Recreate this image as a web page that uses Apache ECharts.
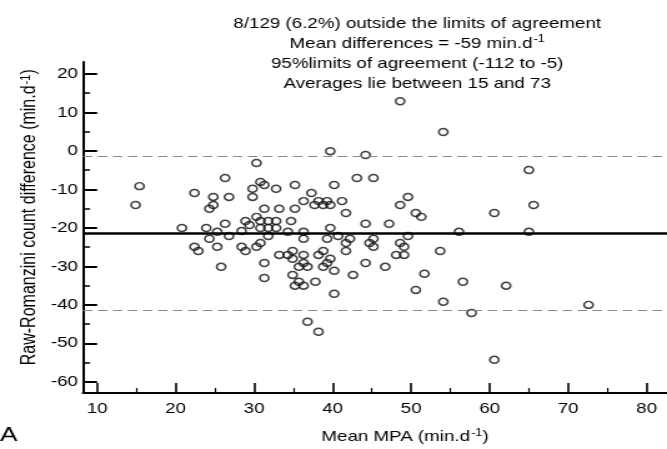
<!DOCTYPE html>
<html>
<head>
<meta charset="utf-8">
<script src="https://cdn.jsdelivr.net/npm/echarts@6/dist/echarts.min.js"></script>
<style>
	html, body { margin: 0; padding: 0; background: #fff; overflow: hidden; }
	/* the reference picture is stretched sideways, so draw narrow and scale it out */
	#chart { width: 534px; height: 449px; transform: scaleX(1.2491); transform-origin: 0 0; }
</style>
</head>
<body>
<div id="chart"></div>
<script>
// Bland-Altman points: mean MPA (x) against difference (y)
let meanMPA = [
	14.9, 15.4, 20.8, 22.4, 22.4, 22.9, 23.9, 24.3, 24.3, 24.8,
	24.8, 25.3, 25.3, 25.8, 26.3, 26.3, 26.8, 26.8, 28.4, 28.4,
	28.9, 28.9, 29.4, 29.8, 29.8, 30.3, 30.3, 30.3, 30.8, 30.8,
	30.8, 30.8, 31.3, 31.3, 31.3, 31.3, 31.8, 31.8, 31.8, 32.8,
	32.8, 32.8, 33.2, 33.2, 34.3, 34.3, 34.7, 34.9, 34.9, 34.9,
	35.2, 35.2, 35.2, 35.7, 35.7, 36.3, 36.3, 36.3, 36.3, 36.3,
	36.3, 36.8, 36.8, 37.3, 37.7, 37.8, 38.2, 38.2, 38.2, 38.8,
	38.8, 38.8, 39.3, 39.3, 39.3, 39.7, 39.7, 39.7, 39.7, 40.2,
	40.2, 40.2, 40.7, 41.2, 41.7, 41.7, 41.7, 42.2, 42.6, 43.1,
	44.2, 44.2, 44.2, 44.7, 45.2, 45.2, 45.2, 46.7, 47.2, 48.6,
	48.6, 48.6, 48.1, 49.1, 49.1, 49.6, 49.6, 50.6, 50.6, 51.3,
	51.7, 53.7, 54.1, 54.1, 56.1, 56.6, 57.7, 60.6, 60.6, 62.1,
	65.0, 65.0, 65.6, 72.6
];
let difference = [
	-14.1, -9.2, -20.1, -11.0, -25.0, -26.1, -20.1, -22.9, -15.1, -12.0,
	-14.1, -21.1, -25.0, -30.2, -7.1, -19.0, -12.0, -22.2, -20.9, -25.0,
	-18.3, -26.1, -19.3, -9.9, -12.0, -3.2, -17.2, -25.0, -8.1, -18.3,
	-20.1, -24.0, -8.9, -15.1, -29.2, -33.1, -18.3, -20.1, -22.2, -9.9,
	-18.3, -20.1, -15.1, -27.1, -21.1, -27.1, -18.3, -26.1, -28.1, -32.3,
	-8.9, -15.1, -35.1, -30.2, -34.1, -13.1, -21.1, -22.9, -27.1, -29.2,
	-35.1, -30.2, -44.5, -11.0, -14.1, -34.1, -13.1, -27.1, -47.1, -14.1,
	-26.1, -30.2, -13.1, -22.9, -29.2, -0.1, -14.1, -20.1, -28.1, -8.9,
	-31.2, -37.2, -22.2, -13.1, -16.2, -24.0, -26.1, -22.9, -32.3, -7.1,
	-1.1, -19.0, -29.2, -24.0, -7.1, -22.9, -25.0, -30.2, -19.0, 12.9,
	-14.1, -24.0, -27.1, -25.0, -27.1, -12.0, -22.2, -16.2, -36.2, -17.2,
	-32.0, -26.1, 4.9, -39.3, -21.1, -34.1, -42.2, -16.2, -54.4, -35.1,
	-5.0, -21.1, -14.1, -40.1
];

// mean difference and 95% limits of agreement lines
let meanDiff = -21.5;
let upperLimit = -1.3;
let lowerLimit = -41.5;

// axis ranges (the axis lines run a little past the first tick)
let xRange = [8.2, 82.6];
let yRange = [-62.9, 23.1];
let xTicks = [10, 20, 30, 40, 50, 60, 70, 80];
let yTicks = [-60, -50, -40, -30, -20, -10, 0, 10, 20];

let titleLines = [
	'8/129 (6.2%) outside the limits of agreement',
	'Mean differences = -59 min.d{sup|-1}',
	'95%limits of agreement (-112 to -5)',
	'Averages lie between 15 and 73'
];

let font = '"Liberation Sans", Arial, sans-serif';
let supStyle = { fontSize: 10, fontFamily: font, color: '#000', verticalAlign: 'top', padding: [0, 0, 6, 1] };
let supStyleBig = { fontSize: 11, fontFamily: font, color: '#000', verticalAlign: 'top', padding: [0, 0, 6, 1] };

let points = [];
for (let i = 0; i < meanMPA.length; i++) {
	points.push([meanMPA[i], difference[i]]);
}

let chart = echarts.init(document.getElementById('chart'), null, { renderer: 'canvas' });

// outer grid holds the data and the axis lines, inner grid holds ticks + labels
let outerLeft = 66.45;
let outerBottom = 56;
let gridTop = 62;
let xPx = (534 - outerLeft) / (xRange[1] - xRange[0]);
let yPx = (449 - outerBottom - gridTop) / (yRange[1] - yRange[0]);
let innerLeft = outerLeft + (xTicks[0] - xRange[0]) * xPx;
let innerRight = (xRange[1] - xTicks[xTicks.length - 1]) * xPx;
let innerTop = gridTop + (yRange[1] - yTicks[yTicks.length - 1]) * yPx;
let innerBottom = outerBottom + (yTicks[0] - yRange[0]) * yPx;

chart.setOption({
	backgroundColor: '#fff',
	animation: false,
	title: {
		text: titleLines.join('\n'),
		left: 329,
		top: 9,
		textAlign: 'center',
		textStyle: {
			fontFamily: font,
			fontSize: 15,
			fontWeight: 'normal',
			color: '#000',
			lineHeight: 20,
			rich: { sup: supStyle }
		}
	},
	grid: [
		{ left: outerLeft, right: 0, top: gridTop, bottom: outerBottom },
		{ left: innerLeft, right: innerRight, top: innerTop, bottom: innerBottom }
	],
	xAxis: [{
		type: 'value',
		gridIndex: 0,
		min: xRange[0],
		max: xRange[1],
		name: 'Mean MPA (min.d{sup|-1})',
		nameLocation: 'middle',
		nameGap: 36,
		nameTextStyle: {
			fontFamily: font, fontSize: 15, color: '#000',
			padding: [0, 0, 0, 48],
			rich: { sup: supStyle }
		},
		axisLine: { onZero: false, lineStyle: { color: '#000', width: 2 } },
		axisTick: { show: false },
		axisLabel: { show: false },
		splitLine: { show: false }
	}, {
		type: 'value',
		gridIndex: 1,
		min: xTicks[0],
		max: xTicks[xTicks.length - 1],
		interval: 10,
		offset: innerBottom - outerBottom,
		axisLine: { show: false, onZero: false },
		axisTick: { inside: true, length: 10, lineStyle: { color: '#000', width: 1.6 } },
		minorTick: { show: true, splitNumber: 2, length: 5, lineStyle: { color: '#000', width: 1.2 } },
		axisLabel: { margin: 8, fontFamily: font, fontSize: 15, color: '#000' },
		splitLine: { show: false }
	}],
	yAxis: [{
		type: 'value',
		gridIndex: 0,
		min: yRange[0],
		max: yRange[1],
		name: 'Raw-Romanzini count difference (min.d{sup|-1})',
		nameLocation: 'middle',
		nameGap: 34,
		nameTextStyle: {
			fontFamily: font, fontSize: 16, color: '#000',
			padding: [0, 0, 0, 20],
			rich: { sup: supStyleBig }
		},
		axisLine: { onZero: false, lineStyle: { color: '#000', width: 2 } },
		axisTick: { show: false },
		axisLabel: { show: false },
		splitLine: { show: false }
	}, {
		type: 'value',
		gridIndex: 1,
		min: yTicks[0],
		max: yTicks[yTicks.length - 1],
		interval: 10,
		offset: innerLeft - outerLeft,
		axisLine: { show: false, onZero: false },
		axisTick: { inside: true, length: innerLeft - outerLeft, lineStyle: { color: '#000', width: 2 } },
		minorTick: { show: true, splitNumber: 2, length: 5.6, lineStyle: { color: '#000', width: 1.5 } },
		axisLabel: { margin: 4, fontFamily: font, fontSize: 15, color: '#000' },
		splitLine: { show: false }
	}],
	graphic: [{
		type: 'text',
		left: 0,
		top: 425,
		style: { text: 'A', fontFamily: font, fontSize: 21, fill: '#000' }
	}],
	series: [{
		type: 'scatter',
		xAxisIndex: 0,
		yAxisIndex: 0,
		data: points,
		symbol: 'circle',
		symbolSize: [7.2, 7],
		itemStyle: { color: 'rgba(255,255,255,0)', borderColor: '#111', borderWidth: 1.5 },
		z: 3,
		markLine: {
			silent: true,
			symbol: 'none',
			label: { show: false },
			data: [
				{ yAxis: meanDiff, lineStyle: { color: '#000', width: 2.5, type: 'solid' } },
				{ yAxis: upperLimit, lineStyle: { color: '#8a8a8a', width: 1.2, type: [7.5, 4.5] } },
				{ yAxis: lowerLimit, lineStyle: { color: '#8a8a8a', width: 1.2, type: [7.5, 4.5] } }
			]
		}
	}]
});
</script>
</body>
</html>
